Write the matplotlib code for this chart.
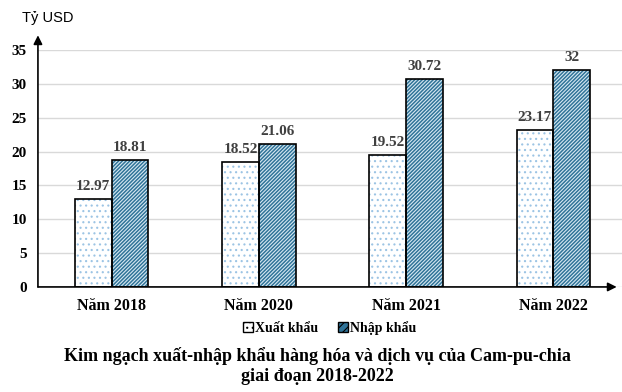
import numpy as np
import matplotlib.pyplot as plt
from matplotlib.patches import Patch

# data
years = ["Năm 2018", "Năm 2020", "Năm 2021", "Năm 2022"]
xuat_khau = [12.97, 18.52, 19.52, 23.17]
nhap_khau = [18.81, 21.06, 30.72, 32]
yticks = [0, 5, 10, 15, 20, 25, 30, 35]

serif = "Liberation Serif"
blue = "#2f7398"
plt.rcParams["hatch.linewidth"] = 0.8

fig = plt.figure(figsize=(6.22, 3.92), dpi=100)
ax = fig.add_axes([0.061, 0.268, 0.947, 0.604])

x = np.arange(len(years))
w = 0.25

# Xuất khẩu: white with fine dotted blue pattern
ax.bar(x - w / 2, xuat_khau, w, color="white", edgecolor="#9cc4e4",
       hatch="...", linewidth=0, zorder=3)
ax.bar(x - w / 2, xuat_khau, w, fill=False, edgecolor="black",
       linewidth=1.2, zorder=4)

# Nhập khẩu: blue with light diagonal hatch
ax.bar(x + w / 2, nhap_khau, w, color=blue, edgecolor="#d6e8f2",
       hatch="/" * 9, linewidth=0, zorder=3)
ax.bar(x + w / 2, nhap_khau, w, fill=False, edgecolor="black",
       linewidth=1.2, zorder=4)

for xi, v in zip(x, xuat_khau):
    ax.text(xi - w / 2, v + 0.9, f"{v:g}", ha="center", va="bottom",
            family=serif, fontweight="bold", fontsize=11, color="#404040")
for xi, v in zip(x, nhap_khau):
    ax.text(xi + w / 2, v + 0.9, f"{v:g}", ha="center", va="bottom",
            family=serif, fontweight="bold", fontsize=11, color="#404040")

ax.set_xlim(-0.5, 3.5)
ax.set_ylim(0, 35)
ax.set_yticks(yticks)
ax.set_xticks(x)
ax.set_xticklabels(years, family=serif, fontweight="bold", fontsize=11.5)
for lab in ax.get_yticklabels():
    lab.set_family(serif)
    lab.set_fontweight("bold")
    lab.set_fontsize(11)
ax.tick_params(length=0, pad=8)
ax.tick_params(axis="x", pad=8)

ax.grid(axis="y", color="#d9d9d9", linewidth=1, zorder=0)
for s in ["top", "right", "left", "bottom"]:
    ax.spines[s].set_visible(False)

# axis arrows
arrow = dict(arrowstyle="-|>", color="black", lw=1.2, mutation_scale=13,
             shrinkA=0, shrinkB=0)
ax.annotate("", xy=(-0.5, 37.2), xytext=(-0.5, 0), arrowprops=arrow,
            annotation_clip=False, zorder=5)
ax.annotate("", xy=(3.43, 0), xytext=(-0.5, 0), arrowprops=arrow,
            annotation_clip=False, zorder=5)

fig.text(0.035, 0.955, "Tỷ USD", family="Liberation Sans", fontsize=10.5,
         ha="left", va="center")

handles = [
    Patch(facecolor="white", edgecolor="black", hatch="...", label="Xuất khẩu"),
    Patch(facecolor=blue, edgecolor="black", hatch="////", label="Nhập khẩu"),
]
fig.legend(handles=handles, loc="center", bbox_to_anchor=(0.53, 0.163), ncol=2,
           frameon=False, prop=dict(family=serif, weight="bold", size=10),
           handlelength=0.75, handleheight=0.75, handletextpad=0.15,
           columnspacing=1.4)

fig.text(0.511, 0.066, "Kim ngạch xuất-nhập khẩu hàng hóa và dịch vụ của Cam-pu-chia\ngiai đoạn 2018-2022",
         ha="center", va="center", family=serif, fontweight="bold",
         fontsize=13, linespacing=1.25)

fig.savefig("out.png", dpi=100)
